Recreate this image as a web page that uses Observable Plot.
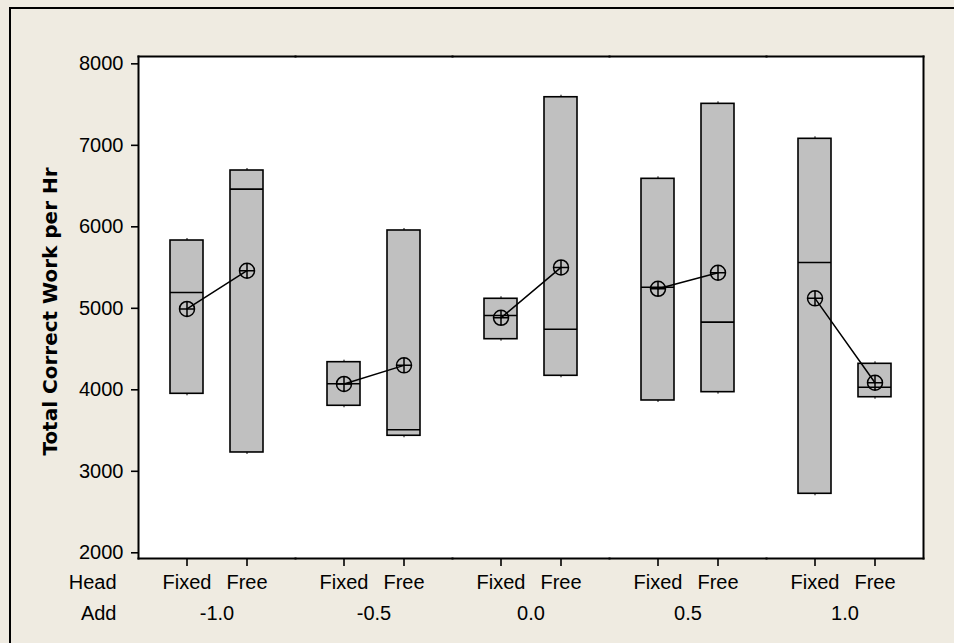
<!DOCTYPE html>
<html>
<head>
<meta charset="utf-8">
<script src="https://cdn.jsdelivr.net/npm/d3@7"></script>
<script src="https://cdn.jsdelivr.net/npm/@observablehq/plot@0.6"></script>
<style>
  html, body { margin: 0; padding: 0; width: 954px; height: 643px; overflow: hidden; background: rgb(239,235,225); }
  #panel {
    position: absolute; left: 9px; top: 7px; width: 960px; height: 650px;
    border-left: 2px solid #000; border-top: 2px solid #000;
  }
  #panel svg { display: block; }
</style>
</head>
<body>
<div id="panel"></div>
<script>
// Factor levels
const addLevels = ["-1.0", "-0.5", "0.0", "0.5", "1.0"];
const headLevels = ["Fixed", "Free"];

// Three runs per Add × Head cell (cells ordered Add-major, Fixed before Free),
// listed as the lowest, middle and highest value of each cell.
const lowestRun  = [3951, 3231, 3804, 3436, 4621, 4172, 3869, 3971, 2724, 3909];
const middleRun  = [5194, 6462, 4074, 3509, 4912, 4744, 5259, 4830, 5562, 4032];
const highestRun = [5832, 6691, 4339, 5955, 5117, 7590, 6589, 7509, 7080, 4319];

const yTicks = [2000, 3000, 4000, 5000, 6000, 7000, 8000];
const yLabel = "Total Correct Work per Hr";

// Long-format table built from the arrays above
const runs = [];
addLevels.forEach((add, i) => {
  headLevels.forEach((head, j) => {
    const k = i * headLevels.length + j;
    for (const v of [lowestRun[k], middleRun[k], highestRun[k]]) {
      runs.push({Add: add, Head: head, work: v});
    }
  });
});

// Mean marker: a circle with a cross through it
const circlePlus = {
  draw(context, size) {
    const r = Math.sqrt(size / Math.PI);
    context.moveTo(r, 0);
    context.arc(0, 0, r, 0, 2 * Math.PI);
    context.moveTo(-r, 0);
    context.lineTo(r, 0);
    context.moveTo(0, -r);
    context.lineTo(0, r);
  }
};

const cell = {x: "Head", y: "work", fx: "Add"};
const firstFacet = () => addLevels[0];

const chart = Plot.plot({
  width: 943,
  height: 634,
  marginLeft: 127,
  marginRight: 31,
  marginTop: 47,
  marginBottom: 85,
  style: {
    background: "transparent",
    fontFamily: "'Liberation Sans', Arial, sans-serif",
    fontSize: "20px",
    color: "black",
    overflow: "visible"
  },
  fx: {domain: addLevels, padding: 0, label: null},
  x: {type: "band", domain: headLevels, paddingInner: 0.45, paddingOuter: 0.533, label: null},
  y: {domain: [1930, 8090], label: null},
  marks: [
    // white plot region, tiled across the Add panels
    Plot.frame({fill: "white", stroke: null, shapeRendering: "crispEdges"}),

    // boxes: with three runs per cell the quartiles sit on the extremes
    Plot.barY(runs, Plot.groupX({y1: "min", y2: "max"}, {
      ...cell, fill: "#c0c0c0", stroke: "black", strokeWidth: 1.6
    })),
    Plot.ruleX(runs, Plot.groupX({y1: "max", y2: "max"}, {...cell, insetTop: -2, strokeWidth: 1})),
    Plot.ruleX(runs, Plot.groupX({y1: "min", y2: "min"}, {...cell, insetBottom: -2, strokeWidth: 1})),
    Plot.tickY(runs, Plot.groupX({y: "median"}, {...cell, strokeWidth: 1.6})),

    // means joined within each Add level
    Plot.lineY(runs, Plot.groupX({y: "mean"}, {...cell, stroke: "black", strokeWidth: 1.5})),
    Plot.dot(runs, Plot.groupX({y: "mean"}, {
      ...cell, symbol: circlePlus, r: 7.5, fill: "none", stroke: "black", strokeWidth: 1.5
    })),

    // plot region border
    Plot.frame({anchor: "top", strokeWidth: 2}),
    Plot.frame({anchor: "bottom", strokeWidth: 2}),
    Plot.frame({anchor: "left", facetAnchor: "left", strokeWidth: 2}),
    Plot.frame({anchor: "right", facetAnchor: "right", strokeWidth: 2}),

    // axes
    Plot.axisY({ticks: yTicks, tickFormat: d => String(d), tickSize: 7, tickPadding: 8, strokeWidth: 1.6, label: null}),
    Plot.axisX({anchor: "bottom", tickSize: 8, tickPadding: 8, strokeWidth: 1.6, label: null}),
    Plot.axisFx({anchor: "bottom", tickSize: 0, tickPadding: 47, label: null}),

    // row titles for the two x-axis levels
    Plot.text(["Head"], {fx: firstFacet, text: d => d, frameAnchor: "bottom-left",
      dx: -22, dy: 16, lineAnchor: "top", textAnchor: "end"}),
    Plot.text(["Add"], {fx: firstFacet, text: d => d, frameAnchor: "bottom-left",
      dx: -22, dy: 47, lineAnchor: "top", textAnchor: "end"}),

    // y-axis title
    Plot.text([yLabel], {fx: firstFacet, text: d => d, frameAnchor: "left", rotate: -90,
      dx: -88, dy: 4, lineAnchor: "middle", textAnchor: "middle",
      fontFamily: "'DejaVu Sans', Verdana, sans-serif", fontWeight: "bold", fontSize: 20})
  ]
});

document.getElementById("panel").appendChild(chart);
</script>
</body>
</html>
